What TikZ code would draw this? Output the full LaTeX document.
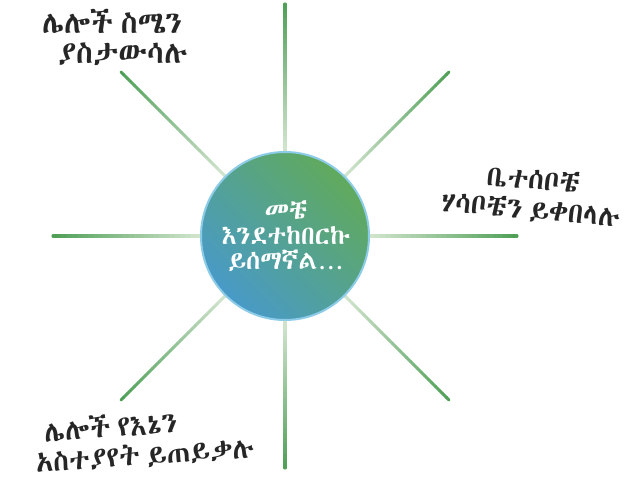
\documentclass[tikz,border=0pt]{standalone}
\usepackage{fontspec}
\IfFontExistsTF{Abyssinica SIL}
  {\newfontfamily\ethfont[Script=Ethiopic, WordSpace=0.55]{Abyssinica SIL}}
  {\newfontfamily\ethfont[WordSpace=0.55]{FreeSerif}}
\usetikzlibrary{positioning}

\definecolor{raydark}{RGB}{80,160,88}
\definecolor{raylight}{RGB}{212,230,208}
\definecolor{hubgreen}{RGB}{96,170,92}
\definecolor{hubblue}{RGB}{72,154,200}
\definecolor{hubrim}{RGB}{140,204,232}

\tikzset{
    labeltext/.style={text=black!85},
    bigtext/.style={labeltext, font=\ethfont\fontsize{23}{22.5}\selectfont},
    midtext/.style={labeltext, font=\ethfont\fontsize{21.5}{22.5}\selectfont},
    hubtext/.style={align=center, font=\ethfont\fontsize{19.5}{19}\selectfont, text=white}
}

\begin{document}
\begin{tikzpicture}[x=0.75pt, y=-0.75pt]
        \useasboundingbox (0, 0) rectangle (626, 481);
        \coordinate (hub) at (285, 236);
        % 八条渐变射线, 由外向内变浅
        \begin{scope}[shift={(285, 236)}, line width=2.3pt]
            \foreach \ang in {0, 45, ..., 315} {
                \foreach \i in {0, ..., 28} {
                    \pgfmathtruncatemacro{\pct}{100*\i/29}
                    \draw [color=raydark!\pct!raylight] (\ang:80+\i*5.1) -- (\ang:85.6+\i*5.1);
                }
                % 外端圆头
                \draw [raydark, line cap=round] (\ang:227.9) -- (\ang:232);
            }
        \end{scope}
        % 中间的圆
        \shade [top color=hubgreen, bottom color=hubblue, shading angle=-45]
            (hub) circle (84);
        \draw [hubrim, line width=1.5pt] (hub) circle (84);
        \node [hubtext] (center) at (286, 236) {መቼ\\እንደተከበርኩ\\ይሰማኛል…};
        % 三段文字
        \node [bigtext, align=left] (remember) at (115, 37) {ሌሎች ስሜን\\\hspace*{12pt}ያስታውሳሉ};
        \node [midtext, align=center, rotate=-5] (family) at (532, 195) {ቤተሰቦቼ\\ሃሳቦቼን ይቀበላሉ};
        \node [midtext, align=left, rotate=4] (opinion) at (144, 440) {\hspace*{8pt}ሌሎች የእኔን\\አስተያየት ይጠይቃሉ};
    \end{tikzpicture}
\end{document}
